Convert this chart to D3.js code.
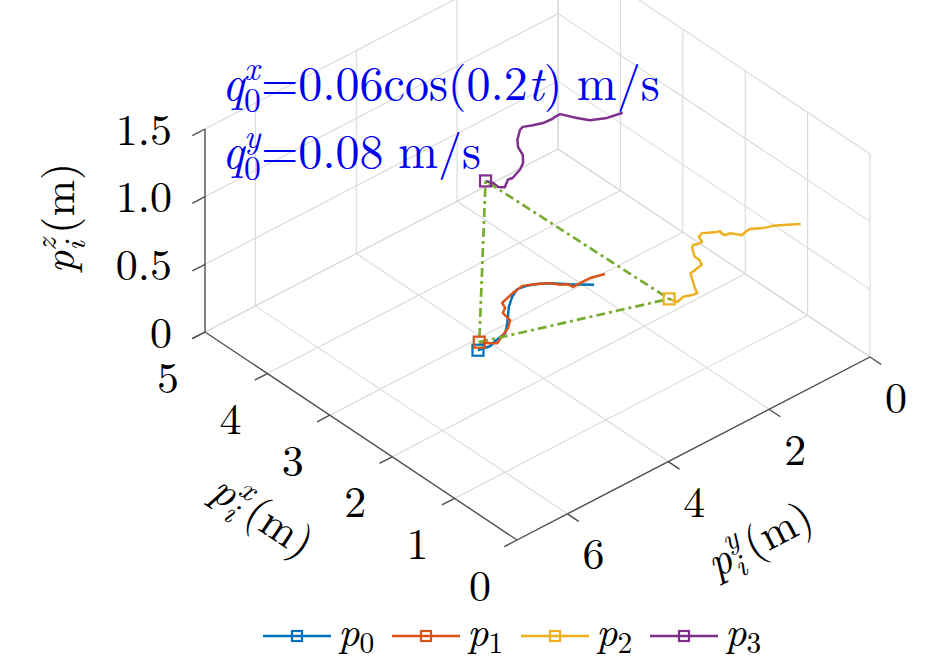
<!DOCTYPE html>
<html>
<head>
<meta charset="utf-8">
<script src="https://cdn.jsdelivr.net/npm/d3@7"></script>
<style>
  body { margin: 0; background: #fff; }
</style>
</head>
<body>
<div id="chart"></div>
<script>
// trajectories (time order: first point = start, last = marker)
const p0X = [2.91, 3.09, 3.24, 3.32, 3.37, 3.39, 3.32, 3.21, 3.00, 2.88, 2.85, 2.81, 2.84];
const p0Y = [1.87, 2.13, 2.33, 2.49, 2.64, 2.80, 2.99, 3.19, 3.48, 3.67, 3.88, 4.06, 4.26];

const p1X = [2.98, 3.03, 3.03, 3.03, 3.10, 3.15, 3.24, 3.32, 3.40, 3.38, 3.37, 3.31, 3.22, 3.17, 3.02, 2.93, 2.87, 2.80, 2.85, 2.94];
const p1Y = [1.57, 1.80, 1.96, 2.14, 2.15, 2.25, 2.33, 2.49, 2.69, 2.82, 2.91, 3.20, 3.25, 3.36, 3.40, 3.55, 3.73, 3.93, 4.01, 4.11];

const p2X = [0.82, 0.93, 0.99, 1.03, 1.11, 1.10, 1.08, 1.13, 1.19, 1.20, 1.24, 1.29, 1.30, 1.35, 1.39, 1.36, 1.27, 1.27, 1.29, 1.26,
             1.12, 1.04, 0.96, 0.95, 0.93, 0.93, 0.85, 0.79, 0.70, 0.61, 0.62, 0.66, 0.63, 0.70, 0.73];
const p2Y = [0.36, 0.57, 0.70, 0.85, 1.01, 1.11, 1.20, 1.24, 1.30, 1.39, 1.40, 1.38, 1.43, 1.54, 1.61, 1.71, 1.76, 1.84, 1.91, 1.97,
             2.09, 2.09, 2.15, 2.24, 2.36, 2.41, 2.48, 2.53, 2.61, 2.67, 2.76, 2.89, 3.04, 3.07, 3.08];

const p3X = [2.84, 2.88, 2.97, 3.09, 3.26, 3.26, 3.25, 3.26, 3.30, 3.35, 3.33, 3.21, 3.11, 2.97, 2.86, 2.79, 2.73, 2.74, 2.66, 2.71, 2.80, 2.88];
const p3Y = [1.39, 1.65, 1.88, 1.99, 2.11, 2.22, 2.28, 2.45, 2.60, 2.74, 2.82, 3.02, 3.13, 3.21, 3.34, 3.49, 3.71, 3.79, 3.95, 4.02, 4.01, 4.06];

const agentZ = [0, 0, 0.8, 1.2];
const agentNames = ["0", "1", "2", "3"];
const agentColors = ["#0072BD", "#D95319", "#EDB120", "#7E2F8E"];

const xTicks = [0, 1, 2, 3, 4, 5];
const yTicks = [0, 2, 4, 6];
const zTicks = [0, 0.5, 1, 1.5];
const zTickLabels = ["0", "0.5", "1.0", "1.5"];

const W = 945, H = 661;
const FONT = "'Latin Modern Roman', 'Liberation Serif', serif";

// projection of the 3D box (orthographic, like matlab view)
const O = [870, 357];         // (0,0,0)
const EX = [-312, -208];      // x: 0 -> 5
const EY = [-353, 183];       // y: 0 -> 7
const EZ = [0, -203];         // z: 0 -> 1.5

const xs = d3.scaleLinear().domain([0, 5]).range([0, 1]);
const ys = d3.scaleLinear().domain([0, 7]).range([0, 1]);
const zs = d3.scaleLinear().domain([0, 1.5]).range([0, 1]);

function proj(x, y, z) {
    const a = xs(x), b = ys(y), c = zs(z);
    return [O[0] + a * EX[0] + b * EY[0] + c * EZ[0],
            O[1] + a * EX[1] + b * EY[1] + c * EZ[1]];
}

const svg = d3.select("#chart").append("svg")
    .attr("width", W)
    .attr("height", H);

const line = d3.line();

// small latex-ish text helper: one <text>, one tspan per run
function mathText(parent, runs, size, anchor, fill) {
    const txt = parent.append("text")
        .style("font-family", FONT)
        .style("font-size", size + "px")
        .style("fill", fill || "#000");
    let x = 0, lastStart = 0;
    const spans = [];
    runs.forEach(r => {
        const sx = r.stack ? lastStart : x + (r.gap || 0) * size;
        const ts = txt.append("tspan")
            .attr("y", -(r.sh || 0) * size)
            .style("font-size", (size * (r.sc || 1)) + "px")
            .style("font-style", r.it ? "italic" : "normal")
            .text(r.t);
        ts.attr("x", sx);
        const w = ts.node().getComputedTextLength();
        spans.push([ts, sx]);
        lastStart = sx;
        x = Math.max(x, sx + w);
    });
    if (anchor === "middle") spans.forEach(([ts, sx]) => ts.attr("x", sx - x / 2));
    return txt;
}

// GRID (back walls + floor)
const grid = [];
xTicks.forEach(x => {
    grid.push([[x, 0, 0], [x, 7, 0]]);
    grid.push([[x, 0, 0], [x, 0, 1.5]]);
});
yTicks.forEach(y => {
    grid.push([[0, y, 0], [5, y, 0]]);
    grid.push([[5, y, 0], [5, y, 1.5]]);
});
zTicks.forEach(z => {
    grid.push([[0, 0, z], [5, 0, z]]);
    grid.push([[5, 0, z], [5, 7, z]]);
});

svg.append("g").selectAll("path").data(grid).enter().append("path")
    .attr("d", d => line(d.map(p => proj(...p))))
    .style("fill", "none")
    .style("stroke", "#d9d9d9")
    .style("stroke-width", 1.1);

// AXES
const axisG = svg.append("g").style("stroke", "#4d4d4d").style("stroke-width", 1.4).style("fill", "none");
axisG.append("path").attr("d", line([proj(0, 7, 0), proj(5, 7, 0)]));
axisG.append("path").attr("d", line([proj(0, 0, 0), proj(0, 7, 0)]));
axisG.append("path").attr("d", line([proj(5, 7, 0), proj(5, 7, 1.5)]));

const tk = 0.18; // tick length in data units of the other axis
xTicks.forEach(x => axisG.append("path").attr("d", line([proj(x, 7, 0), proj(x, 7 + tk * 7 / 5, 0)])));
yTicks.forEach(y => axisG.append("path").attr("d", line([proj(0, y, 0), proj(-tk, y, 0)])));
zTicks.forEach(z => axisG.append("path").attr("d", line([proj(5, 7, z), proj(5, 7 + tk * 7 / 5, z)])));

// tick labels
const tickSize = 44;
function tickText(sel) {
    return sel.attr("text-anchor", "middle")
        .attr("dominant-baseline", "central")
        .style("font-family", FONT)
        .style("font-size", tickSize + "px");
}
tickText(svg.append("g").selectAll("text").data(xTicks).enter().append("text"))
    .attr("x", d => proj(d, 7, 0)[0] - 37)
    .attr("y", d => proj(d, 7, 0)[1] + 42)
    .text(d => d);

tickText(svg.append("g").selectAll("text").data(yTicks).enter().append("text"))
    .attr("x", d => proj(0, d, 0)[0] + 26)
    .attr("y", d => proj(0, d, 0)[1] + 37)
    .text(d => d);

tickText(svg.append("g").selectAll("text").data(zTicks).enter().append("text"))
    .attr("text-anchor", "end")
    .attr("x", d => proj(5, 7, d)[0] - 33)
    .attr("y", d => proj(5, 7, d)[1] - 3)
    .text((d, i) => zTickLabels[i]);

// AXES LABELS
const labSize = 44;
function axisLabel(sup) {
    return [
        { t: "p", it: 1 },
        { t: sup, it: 1, sc: 0.7, sh: 0.42 },
        { t: "i", it: 1, sc: 0.7, sh: -0.24, stack: 1 },
        { t: "(m)", gap: 0.1 }
    ];
}
mathText(svg.append("g").attr("transform", "translate(74,218) rotate(-90)"), axisLabel("z"), labSize, "middle");
mathText(svg.append("g").attr("transform", "translate(262,517) rotate(33.7) translate(0,13)"), axisLabel("x"), labSize, "middle");
mathText(svg.append("g").attr("transform", "translate(760,541) rotate(-27.4) translate(0,13)"), axisLabel("y"), labSize, "middle");

// TRAJECTORIES
const series = [
    { x: p0X, y: p0Y },
    { x: p1X, y: p1Y },
    { x: p2X, y: p2Y },
    { x: p3X, y: p3Y }
].map((s, i) => ({ name: agentNames[i], pts: s.x.map((v, j) => [v, s.y[j], agentZ[i]]) }));

svg.append("g").selectAll("path").data(series).enter().append("path")
    .attr("d", d => line(d.pts.map(p => proj(...p))))
    .style("fill", "none")
    .style("stroke", (d, i) => agentColors[i])
    .style("stroke-width", 2.5)
    .style("stroke-linejoin", "round");

// formation triangle between followers (last positions)
const tri = [1, 2, 3, 1].map(i => series[i].pts[series[i].pts.length - 1]);
svg.append("path")
    .attr("d", line(tri.map(p => proj(...p))))
    .style("fill", "none")
    .style("stroke", "#77AC30")
    .style("stroke-width", 2.7)
    .style("stroke-dasharray", "9,4,3,4");

// end markers
const ms = 11;
svg.append("g").selectAll("rect").data(series).enter().append("rect")
    .attr("x", d => proj(...d.pts[d.pts.length - 1])[0] - ms / 2)
    .attr("y", d => proj(...d.pts[d.pts.length - 1])[1] - ms / 2)
    .attr("width", ms).attr("height", ms)
    .style("fill", "none")
    .style("stroke", (d, i) => agentColors[i])
    .style("stroke-width", 2.2);

// ANNOTATION
const blue = "#0000f0";
const annSize = 48;
mathText(svg.append("g").attr("transform", "translate(222,100)"), [
    { t: "q", it: 1 },
    { t: "x", it: 1, sc: 0.7, sh: 0.42 },
    { t: "0", sc: 0.7, sh: -0.24, stack: 1 },
    { t: "=0.06cos(0.2" },
    { t: "t", it: 1 },
    { t: ")" },
    { t: "m/s", gap: 0.3 }
], annSize, "start", blue);
mathText(svg.append("g").attr("transform", "translate(222,168)"), [
    { t: "q", it: 1 },
    { t: "y", it: 1, sc: 0.7, sh: 0.42 },
    { t: "0", sc: 0.7, sh: -0.24, stack: 1 },
    { t: "=0.08" },
    { t: "m/s", gap: 0.3 }
], annSize, "start", blue);

// LEGEND
const legY = 636;
const leg = svg.append("g").selectAll("g").data(series).enter().append("g")
    .attr("transform", (d, i) => "translate(" + (263 + i * 129) + "," + legY + ")");
leg.append("line")
    .attr("x1", 0).attr("x2", 68).attr("y1", 0).attr("y2", 0)
    .style("stroke", (d, i) => agentColors[i])
    .style("stroke-width", 2.4);
leg.append("rect")
    .attr("x", 34 - 5).attr("y", -5).attr("width", 10).attr("height", 10)
    .style("fill", "none")
    .style("stroke", (d, i) => agentColors[i])
    .style("stroke-width", 2.2);
leg.each(function (d) {
    mathText(d3.select(this).append("g").attr("transform", "translate(75,10)"), [
        { t: "p", it: 1 },
        { t: d.name, sc: 0.7, sh: -0.17 }
    ], 42);
});
</script>
</body>
</html>
